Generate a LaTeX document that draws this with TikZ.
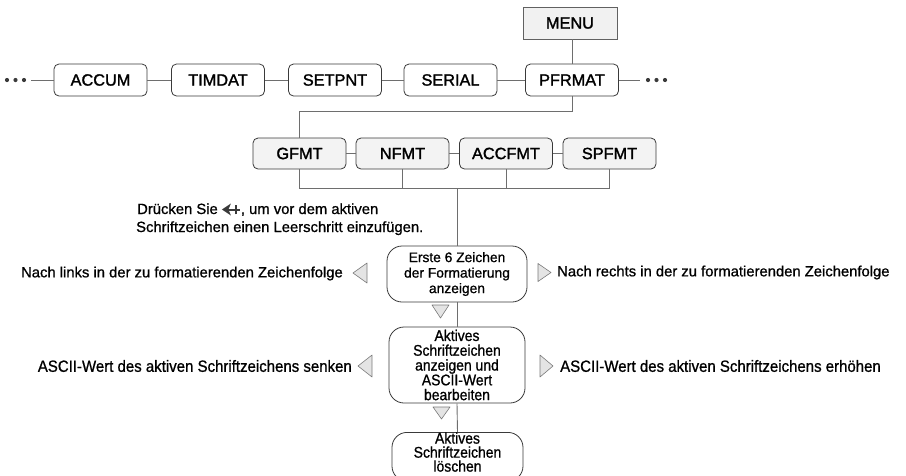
\documentclass[tikz,border=0pt]{standalone}
\usepackage{fontspec}
\setmainfont{Liberation Sans}
\newfontfamily\labelfont[FakeBold=1.6]{Liberation Sans}
\newfontfamily\descfont[FakeBold=0.9]{Liberation Sans}
\newfontfamily\condfont[FakeStretch=0.92,FakeBold=0.9]{Liberation Sans}
\newfontfamily\boxcondfont[FakeStretch=0.9,FakeBold=0.9]{Liberation Sans}
\definecolor{boxline}{HTML}{3A3A3A}
\definecolor{wire}{HTML}{6E6E6E}
\definecolor{menufill}{HTML}{F1F1F1}
\definecolor{subfill}{HTML}{F3F3F3}
\definecolor{trifill}{HTML}{E4E4E4}
\definecolor{trieedge}{HTML}{7A7A7A}
\begin{document}
\begin{tikzpicture}[x=1pt,y=-1pt,
  menubox/.style={draw=boxline!80, fill=menufill, line width=0.8pt,
    minimum width=94pt, minimum height=32pt, inner sep=0pt,
    font={\labelfont\fontsize{16.3}{18}\selectfont}},
  topbox/.style={draw=boxline, fill=white, line width=0.8pt, rounded corners=5pt,
    minimum width=93pt, minimum height=32pt, inner sep=0pt,
    font={\labelfont\fontsize{16.3}{18}\selectfont}},
  subbox/.style={topbox, fill=subfill, minimum height=31pt},
  flowbox/.style={draw=boxline, fill=white, line width=0.8pt, rounded corners=15pt,
    inner sep=0pt, align=center},
  wirestyle/.style={draw=wire, line width=0.9pt},
  marker/.style={draw=trieedge, fill=trifill, line width=0.6pt, line join=round},
  desc/.style={inner sep=0pt, font={\descfont\fontsize{14.8}{17}\selectfont}},
  conddesc/.style={inner sep=0pt, font={\condfont\fontsize{16.3}{17}\selectfont}},
  dot/.style={circle, fill=boxline, inner sep=0pt, minimum size=4.2pt}
]
\useasboundingbox (0,0) rectangle (906,475);

% top level menu
\node[menubox] (menu) at (570,23) {MENU};

\node[topbox] (accum)  at (100.5,80) {ACCUM};
\node[topbox] (timdat) at (218,80)   {TIMDAT};
\node[topbox] (setpnt) at (335,80)   {SETPNT};
\node[topbox] (serial) at (450.5,80) {SERIAL};
\node[topbox] (pfrmat) at (572,80)   {PFRMAT};

% continuation dots on both ends
\node[dot] (l1) at (7,80) {};
\node[dot] (l2) at (15.5,80) {};
\node[dot] (l3) at (24,80) {};
\node[dot] (r1) at (648,80) {};
\node[dot] (r2) at (656.5,80) {};
\node[dot] (r3) at (665,80) {};
\coordinate (lend) at (31,80);
\coordinate (rend) at (640,80);

\draw[wirestyle] (lend) -- (accum.west);
\draw[wirestyle] (accum) -- (timdat);
\draw[wirestyle] (timdat) -- (setpnt);
\draw[wirestyle] (setpnt) -- (serial);
\draw[wirestyle] (serial) -- (pfrmat);
\draw[wirestyle] (pfrmat.east) -- (rend);
\draw[wirestyle] (menu.south -| pfrmat.north) -- (pfrmat.north);

% format sub menu
\node[subbox] (gfmt)   at (299.5,153.5) {GFMT};
\node[subbox] (nfmt)   at (402.5,153.5) {NFMT};
\node[subbox] (accfmt) at (506,153.5)   {ACCFMT};
\node[subbox] (spfmt)  at (609.5,153.5) {SPFMT};

\draw[wirestyle] (gfmt) -- (nfmt);
\draw[wirestyle] (nfmt) -- (accfmt);
\draw[wirestyle] (accfmt) -- (spfmt);
\draw[wirestyle] (pfrmat.south) -- ++(0,15) -| (gfmt.north);

% collecting bus under the sub menu
\coordinate (bus) at (457,188);
\draw[wirestyle] (gfmt.south) -- (gfmt.south |- bus) -- (spfmt.south |- bus) -- (spfmt.south);
\draw[wirestyle] (nfmt.south) -- (nfmt.south |- bus);
\draw[wirestyle] (accfmt.south) -- (accfmt.south |- bus);

% editing flow
\node[flowbox, minimum width=140pt, minimum height=56pt,
  font={\descfont\fontsize{13.8}{15.5}\selectfont}] (show) at (457,274)
  {Erste 6 Zeichen\\der Formatierung\\anzeigen};
\node[flowbox, minimum width=136pt, minimum height=76pt,
  font={\boxcondfont\fontsize{15.5}{14.8}\selectfont}] (edit) at (457,365)
  {Aktives\\Schriftzeichen\\anzeigen und\\ASCII-Wert\\bearbeiten};
\node[flowbox, minimum width=131pt, minimum height=48pt, anchor=north,
  text depth=9.5pt,
  font={\boxcondfont\fontsize{15.5}{14}\selectfont}] (del) at (457.5,432)
  {Aktives\\Schriftzeichen\\löschen};

\draw[wirestyle] (bus) -- (show.north);
\draw[wirestyle] (show.south) -- (edit.north);
\draw[wirestyle] (edit.south) -- (del.north);

% direction markers
\draw[marker] (353,273) -- (367,263) -- (367,283) -- cycle;
\draw[marker] (551,272.5) -- (538,263.5) -- (538,281.5) -- cycle;
\draw[marker] (432,305) -- (449,305) -- (440.5,318) -- cycle;
\draw[marker] (358,366) -- (372,355) -- (372,377) -- cycle;
\draw[marker] (553,366) -- (540,355) -- (540,377) -- cycle;
\draw[marker] (433,407) -- (450,407) -- (441.5,419) -- cycle;

% descriptions
\node[desc, anchor=base west] (hint1) at (137,214)
  {Drücken Sie \tikz[baseline=-4.5pt,x=1pt,y=1pt]{
     \fill[boxline] (0,0) -- (9,6) -- (6.5,0) -- (9,-6) -- cycle;
     \draw[boxline, line width=2pt] (6,0) -- (18,0);
     \draw[boxline, line width=2pt] (14,-4.8) -- (14,4.8);}, um vor dem aktiven};
\node[desc, anchor=base west] (hint2) at (136,232)
  {Schriftzeichen einen Leerschritt einzufügen.};
\node[desc, anchor=east] (left1) at (343,273.5)
  {Nach links in der zu formatierenden Zeichenfolge};
\node[desc, anchor=west] (right1) at (557,272.5)
  {Nach rechts in der zu formatierenden Zeichenfolge};
\node[conddesc, anchor=east] (left2) at (352,366)
  {ASCII-Wert des aktiven Schriftzeichens senken};
\node[conddesc, anchor=west] (right2) at (560,366)
  {ASCII-Wert des aktiven Schriftzeichens erhöhen};
\end{tikzpicture}
\end{document}
